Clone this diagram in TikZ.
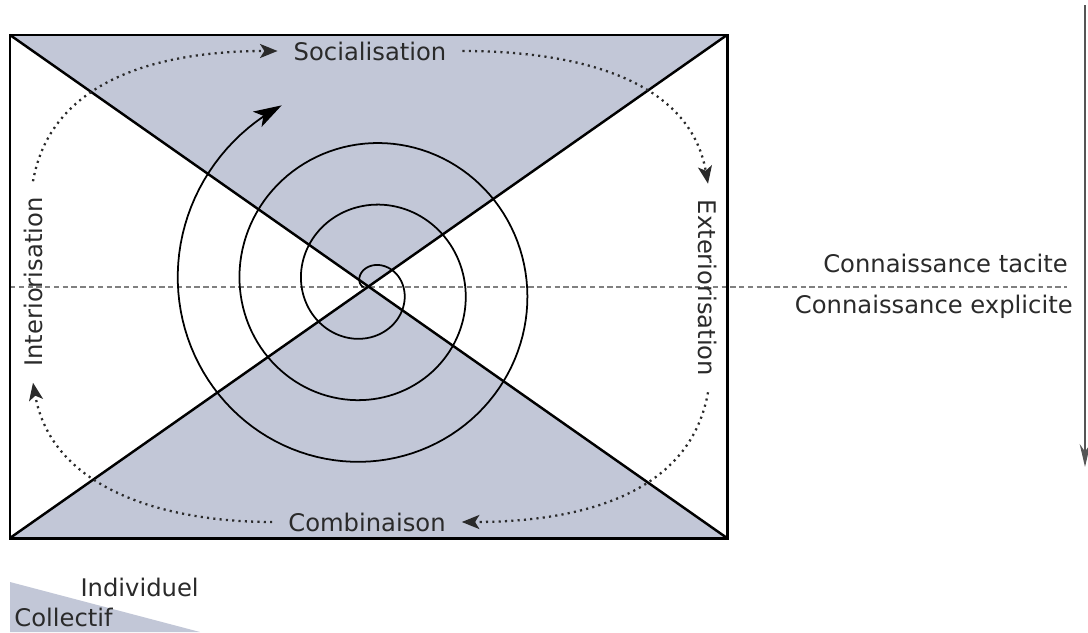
\documentclass[tikz,border=0pt]{standalone}
\usepackage{fontspec}
\setmainfont{DejaVu Sans}
\usetikzlibrary{arrows.meta}
\definecolor{quadfill}{RGB}{194,199,215}
\definecolor{inkgray}{RGB}{42,42,42}
\definecolor{axisgray}{RGB}{85,85,85}

\begin{document}
\begin{tikzpicture}[
    x=0.02cm, y=-0.02cm,
    font=\fontsize{13.8}{16}\selectfont,
    phase/.style={
        text=inkgray,
        inner sep=9pt
    },
    side/.style={
        text=inkgray,
        inner sep=0pt
    },
    cyclearrow/.style={
        draw=inkgray,
        line width=1.3pt,
        dash pattern=on 1.2pt off 2.4pt,
        -{Stealth[length=10pt,width=8pt,inset=2.5pt]}
    },
    spiralline/.style={
        draw=black,
        line width=1pt,
        -{Stealth[length=16pt,width=10pt,inset=4pt]}
    },
    frame/.style={draw=black, line width=1.7pt},
    diag/.style={draw=black, line width=1.4pt},
    divider/.style={draw=gray, line width=0.6pt, dash pattern=on 3pt off 2pt},
    axis/.style={draw=axisgray, line width=1.3pt, -{Stealth[length=13pt,width=6pt]}}
]

\useasboundingbox (0,0) rectangle (1088,632);

\coordinate (tl) at (10,35);
\coordinate (tr) at (727,35);
\coordinate (br) at (727,538);
\coordinate (bl) at (10,538);
\coordinate (mid) at (368,287);
\coordinate (divl) at (10,287);
\coordinate (divr) at (1067,287);
\coordinate (axtop) at (1085,5);
\coordinate (axbot) at (1085,467);

\fill[quadfill] (tl) -- (tr) -- (mid) -- cycle;
\fill[quadfill] (bl) -- (br) -- (mid) -- cycle;

\draw[divider] (divl) -- (divr);

\draw[spiralline] plot[domain=-1.6:18.41, samples=400, variable=\t]
    ({368+(20+9.84*\t)*sin(\t r)}, {287-(20+9.84*\t)*cos(\t r)});

\draw[diag] (tl) -- (br);
\draw[diag] (bl) -- (tr);
\draw[frame] (tl) rectangle (br);

\node[phase] (social) at (370,51) {Socialisation};
\node[phase, rotate=-90] (exter) at (708,288) {Exteriorisation};
\node[phase] (combi) at (367,522) {Combinaison};
\node[phase, rotate=90] (inter) at (33,282) {Interiorisation};

\draw[cyclearrow] (inter.east) to[out=80, in=180] (social.west);
\draw[cyclearrow] (social.east) to[out=0, in=100] (exter.west);
\draw[cyclearrow] (exter.east) to[out=-100, in=0] (combi.east);
\draw[cyclearrow] (combi.west) to[out=180, in=-80] (inter.west);

\node[side, anchor=base east] (tacit) at (1068,272) {Connaissance tacite};
\node[side, anchor=base east] (explicit) at (1073,313) {Connaissance explicite};

\draw[axis] (axtop) -- (axbot);

\fill[quadfill] (10,582) -- (200,632) -- (10,632) -- cycle;
\node[side, anchor=base east] (indiv) at (199,596) {Individuel};
\node[side, anchor=base west] (coll) at (14,626) {Collectif};

\end{tikzpicture}
\end{document}
